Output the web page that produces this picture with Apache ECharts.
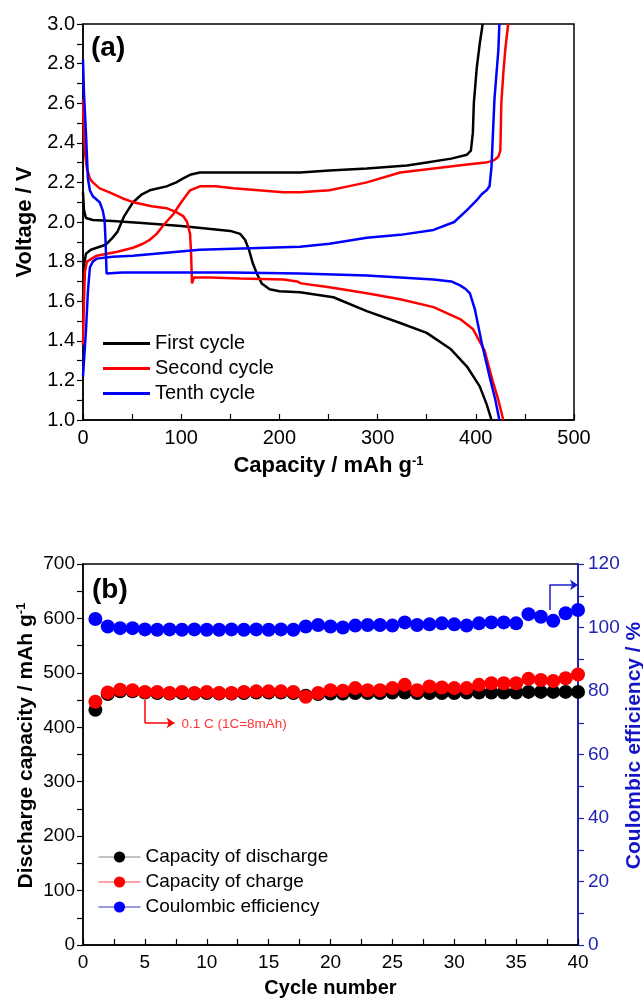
<!DOCTYPE html>
<html><head><meta charset="utf-8">
<script src="https://cdn.jsdelivr.net/npm/echarts@6/dist/echarts.min.js"></script>
<style>html,body{margin:0;padding:0;background:#fff}#c{width:643px;height:999px}</style>
</head><body><div id="c"></div>
<script>
// ---------- Panel (a): voltage profiles [capacity mAh/g, voltage V] ----------
const firstDischarge = [[0,2.15],[1,2.06],[3,2.02],[10,2.01],[30,2.005],[60,1.995],[100,1.98],[130,1.965],[150,1.955],[160,1.94],[165,1.91],[169,1.86],[173,1.79],[177,1.74],[182,1.69],[190,1.66],[200,1.65],[221,1.645],[255,1.62],[289,1.55],[323,1.49],[350,1.44],[374,1.36],[391,1.27],[404,1.17],[411,1.08],[416,1.0]];
const firstCharge = [[0,1.6],[1,1.78],[3,1.84],[8,1.86],[14,1.87],[20,1.88],[24,1.89],[30,1.92],[35,1.95],[42,2.03],[51,2.10],[60,2.14],[68,2.16],[85,2.18],[95,2.20],[102,2.22],[110,2.24],[119,2.25],[153,2.25],[221,2.25],[251,2.26],[289,2.27],[330,2.285],[350,2.30],[375,2.32],[391,2.34],[395,2.36],[397,2.45],[398,2.6],[401,2.78],[404,2.9],[407,3.0]];
const secondDischarge = [[0,2.62],[1,2.45],[2,2.35],[4,2.27],[7,2.22],[10,2.20],[17,2.17],[27,2.15],[40,2.12],[51,2.10],[70,2.08],[85,2.07],[95,2.05],[102,2.03],[106,2.0],[109,1.94],[110,1.85],[111,1.69],[113,1.72],[130,1.72],[160,1.715],[204,1.71],[218,1.70],[222,1.69],[251,1.67],[289,1.64],[323,1.61],[357,1.57],[384,1.51],[397,1.46],[409,1.35],[417,1.2],[423,1.1],[428,1.0]];
const secondCharge = [[0,1.38],[1,1.6],[2,1.75],[4,1.80],[14,1.83],[35,1.85],[51,1.87],[61,1.89],[68,1.91],[75,1.94],[83,1.99],[92,2.04],[100,2.10],[109,2.16],[119,2.18],[135,2.18],[153,2.17],[204,2.15],[221,2.15],[251,2.16],[270,2.18],[289,2.20],[323,2.25],[357,2.27],[391,2.29],[410,2.30],[418,2.31],[423,2.33],[425,2.36],[426,2.6],[428,2.75],[430,2.87],[433,3.0]];
const tenthDischarge = [[0,2.82],[1,2.65],[3,2.45],[5,2.22],[7,2.16],[10,2.13],[17,2.10],[20,2.06],[22,2.01],[23,1.9],[24,1.74],[40,1.745],[100,1.745],[150,1.745],[221,1.74],[289,1.73],[323,1.72],[357,1.71],[375,1.70],[384,1.68],[390,1.66],[394,1.64],[399,1.56],[406,1.39],[414,1.22],[420,1.1],[424,1.0]];
const tenthCharge = [[0,1.22],[3,1.45],[5,1.65],[7,1.77],[10,1.80],[14,1.815],[30,1.825],[51,1.83],[85,1.845],[119,1.86],[153,1.865],[187,1.87],[221,1.875],[251,1.89],[289,1.92],[323,1.935],[357,1.96],[378,2.0],[391,2.06],[401,2.11],[406,2.14],[411,2.16],[414,2.18],[416,2.28],[419,2.62],[423,2.87],[424,3.0]];

// ---------- Panel (b): cycling ----------
const cycles = Array.from({length:40},(_,i)=>i+1);
const dischargeCap = [432,461,466,466,464,463,462,463,462,463,462,462,463,464,464,464,463,458,461,462,462,463,463,463,464,464,463,463,463,463,464,464,464,464,464,465,465,465,465,465];
const chargeCap = [447,464,469,468,465,465,463,465,463,465,463,463,465,466,466,466,465,456,463,468,467,472,468,468,472,478,468,475,473,472,472,478,481,481,481,489,487,485,490,497];
const coulombicEff = [102.7,100.3,99.8,99.8,99.4,99.3,99.4,99.3,99.4,99.3,99.3,99.4,99.3,99.4,99.3,99.4,99.3,100.3,100.8,100.3,100.0,100.6,100.8,100.8,100.6,101.6,100.8,101.0,101.3,101.0,100.6,101.3,101.6,101.6,101.3,104.2,103.4,102.1,104.5,105.5];
const rateArrowStem = [[5.0,450],[5.0,408]];
const rateArrowHead = [[5.0,408],[7.4,408]];
const rateLabel = [[7.95,406]];
const effArrowStem = [[37.7,105.5],[37.7,113.4]];
const effArrowHead = [[37.7,113.4],[40,113.4]];

const FONT = 'Liberation Sans, Arial, sans-serif';
const BLUE_AX = '#2323b2';
const pair = (xs, ys) => xs.map((x,i)=>[x, ys[i]]);

const lineS = (name, data, color) => ({
  type:'line', name, data, xAxisIndex:0, yAxisIndex:0, showSymbol:false, symbol:'none',
  lineStyle:{color, width:2.5}, itemStyle:{color}, silent:true
});
const dotS = (name, data, color, yIdx, z) => ({
  type:'line', name, data, xAxisIndex:1, yAxisIndex:yIdx, symbol:'circle', symbolSize:14, z,
  lineStyle:{width:1, opacity:0, color}, itemStyle:{color}, silent:true
});
const arrowS = (coords, color, yIdx, head) => ({
  type:'lines', coordinateSystem:'cartesian2d', xAxisIndex:1, yAxisIndex:yIdx, z:1,
  symbol: head ? ['none','arrow'] : ['none','none'], symbolSize:8, silent:true,
  lineStyle:{color, width:1.5, opacity:1, curveness:0},
  data:[{coords}]
});

const chart = echarts.init(document.getElementById('c'), null, {renderer:'canvas'});
chart.setOption({
  animation:false,
  textStyle:{fontFamily:FONT},
  title:[
    {text:'(a)', left:91, top:34, padding:0, textStyle:{fontSize:28, fontWeight:'bold', color:'#000', fontFamily:FONT}},
    {text:'(b)', left:92, top:576, padding:0, textStyle:{fontSize:28, fontWeight:'bold', color:'#000', fontFamily:FONT}}
  ],
  legend:[
    {left:103, top:333, orient:'vertical', padding:0, icon:'rect', itemWidth:47, itemHeight:3, itemGap:4,
     textStyle:{fontSize:20, color:'#000', fontFamily:FONT, lineHeight:21},
     data:['First cycle','Second cycle','Tenth cycle'], selectedMode:false},
    {left:98, top:847, orient:'vertical', padding:0, itemWidth:42, itemHeight:14, itemGap:5,
     textStyle:{fontSize:19, color:'#000', fontFamily:FONT, lineHeight:20},
     selectedMode:false,
     data:[
       {name:'Capacity of discharge', lineStyle:{opacity:1, width:1, color:'#888'}},
       {name:'Capacity of charge', lineStyle:{opacity:1, width:1, color:'#f44'}},
       {name:'Coulombic efficiency', lineStyle:{opacity:1, width:1, color:'#33c'}}
     ]}
  ],
  grid:[
    {left:83, top:24, width:491, height:396, show:true, borderColor:'#000', borderWidth:1.5, backgroundColor:'transparent', outerBoundsMode:'none', containLabel:false},
    {left:83, top:564, width:495, height:381, show:true, borderColor:'#000', borderWidth:1.5, backgroundColor:'transparent', outerBoundsMode:'none', containLabel:false}
  ],
  xAxis:[
    {type:'value', gridIndex:0, min:0, max:500, interval:100,
     axisLine:{lineStyle:{color:'#000', width:1.5}},
     axisTick:{inside:true, length:6, lineStyle:{color:'#000', width:1.2}},
     minorTick:{show:true, splitNumber:2, length:6, lineStyle:{color:'#000', width:1.2}},
     splitLine:{show:false},
     axisLabel:{fontSize:20, color:'#000', margin:8, fontFamily:FONT},
     name:'{a|Capacity / mAh g}{s|-1}', nameLocation:'middle', nameGap:35, nameMoveOverlap:false,
     nameTextStyle:{rich:{a:{fontSize:22, fontWeight:'bold', color:'#000', fontFamily:FONT}, s:{fontSize:13, fontWeight:'bold', color:'#000', verticalAlign:'top', padding:[0,0,9,0], fontFamily:FONT}}}},
    {type:'value', gridIndex:1, min:0, max:40, interval:5,
     axisLine:{lineStyle:{color:'#000', width:1.5}},
     axisTick:{inside:true, length:6, lineStyle:{color:'#000', width:1.2}},
     minorTick:{show:true, splitNumber:2, length:6, lineStyle:{color:'#000', width:1.2}},
     splitLine:{show:false},
     axisLabel:{fontSize:19, color:'#000', margin:8, fontFamily:FONT},
     name:'Cycle number', nameLocation:'middle', nameGap:33, nameMoveOverlap:false,
     nameTextStyle:{fontSize:20, fontWeight:'bold', color:'#000', fontFamily:FONT}}
  ],
  yAxis:[
    {type:'value', gridIndex:0, min:1.0, max:3.0, interval:0.2,
     axisLine:{lineStyle:{color:'#000', width:1.5}},
     axisTick:{length:6, lineStyle:{color:'#000', width:1.2}},
     minorTick:{show:true, splitNumber:2, length:6, lineStyle:{color:'#000', width:1.2}},
     splitLine:{show:false},
     axisLabel:{fontSize:20, color:'#000', margin:8, fontFamily:FONT, formatter:v=>v.toFixed(1)},
     name:'Voltage / V', nameLocation:'middle', nameGap:47, nameMoveOverlap:false,
     nameTextStyle:{fontSize:22, fontWeight:'bold', color:'#000', fontFamily:FONT}},
    {type:'value', gridIndex:1, min:0, max:700, interval:100,
     axisLine:{lineStyle:{color:'#000', width:1.5}},
     axisTick:{length:6, lineStyle:{color:'#000', width:1.2}},
     minorTick:{show:true, splitNumber:2, length:6, lineStyle:{color:'#000', width:1.2}},
     splitLine:{show:false},
     axisLabel:{fontSize:19, color:'#000', margin:8, fontFamily:FONT},
     name:'{a|Discharge capacity / mAh g}{s|-1}', nameLocation:'middle', nameGap:46, nameMoveOverlap:false,
     nameTextStyle:{padding:[0,0,0,18], rich:{a:{fontSize:21, fontWeight:'bold', color:'#000', fontFamily:FONT}, s:{fontSize:13, fontWeight:'bold', color:'#000', verticalAlign:'top', padding:[0,0,9,0], fontFamily:FONT}}}},
    {type:'value', gridIndex:1, position:'right', min:0, max:120, interval:20,
     axisLine:{show:true, lineStyle:{color:BLUE_AX, width:2}},
     axisTick:{length:6, lineStyle:{color:BLUE_AX, width:1.2}},
     minorTick:{show:true, splitNumber:2, length:6, lineStyle:{color:BLUE_AX, width:1.2}},
     splitLine:{show:false},
     axisLabel:{fontSize:19, color:BLUE_AX, margin:10, fontFamily:FONT},
     name:'Coulombic efficiency / %', nameLocation:'middle', nameGap:46, nameRotate:90, nameMoveOverlap:false,
     nameTextStyle:{padding:[0,0,0,18], fontSize:21, fontWeight:'bold', color:'#1515c8', fontFamily:FONT}}
  ],
  series:[
    lineS('First cycle', firstDischarge, '#000'),
    lineS('First cycle', firstCharge, '#000'),
    lineS('Second cycle', secondDischarge, '#ff0000'),
    lineS('Second cycle', secondCharge, '#ff0000'),
    lineS('Tenth cycle', tenthDischarge, '#0000ff'),
    lineS('Tenth cycle', tenthCharge, '#0000ff'),
    arrowS(rateArrowStem, '#ff0000', 1, false),
    arrowS(rateArrowHead, '#ff0000', 1, true),
    {type:'scatter', xAxisIndex:1, yAxisIndex:1, data:rateLabel, symbolSize:0, silent:true,
     label:{show:true, position:'right', distance:0, formatter:'0.1 C (1C=8mAh)', color:'#ff0000', fontSize:13.5, fontFamily:FONT}},
    arrowS(effArrowStem, '#1a1ad0', 2, false),
    arrowS(effArrowHead, '#1a1ad0', 2, true),
    dotS('Coulombic efficiency', pair(cycles, coulombicEff), '#0000ff', 2, 3),
    dotS('Capacity of discharge', pair(cycles, dischargeCap), '#000', 1, 4),
    dotS('Capacity of charge', pair(cycles, chargeCap), '#ff0000', 1, 5)
  ]
});
</script></body></html>
